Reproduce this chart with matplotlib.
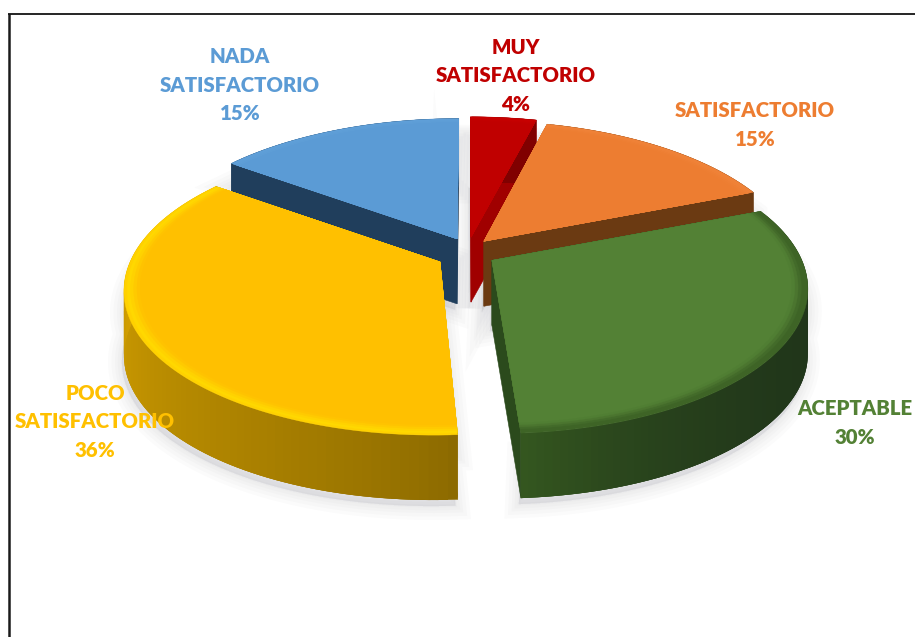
import numpy as np
import matplotlib
matplotlib.use('Agg')
import matplotlib.pyplot as plt
from matplotlib.patches import Polygon
from matplotlib.colors import to_rgb

# datos
categorias = ['MUY\nSATISFACTORIO', 'SATISFACTORIO', 'ACEPTABLE', 'POCO\nSATISFACTORIO', 'NADA\nSATISFACTORIO']
valores = [4, 15, 30, 36, 15]

# estilo
colores = ['#C00000', '#ED7D31', '#538135', '#FFC000', '#5B9BD5']
paredes = ['#A00000', '#6B3A12', '#2B4A1C', '#8F6C00', '#203E5C']
borde = ['#C80000', '#EF8238', '#3E6426', '#FFD800', '#5F9FD8']
lado_ini = ['#800000', '#6B3A12', '#20351A', '#8C6A00', '#203E5C']
lado_fin = ['#800000', '#6B3A12', '#34561F', '#E6AE00', '#203E5C']
lado_pot = [1, 1, 4, 0.8, 1]
explode_x = [1.0, 1.0, 1.18, 1.33, 1.0]
explode_y = [1.0, 1.0, 0.7, 0.97, 1.0]
bisel_fuera = [1.0, 1.0, 1.0, 0.7, 1.0]
pos_etiqueta = [(516, 76), (755, 125), (855, 423), (95, 422), (240, 85)]
orden = [4, 0, 1, 2, 3]

cx, cy = 468, 254
ex, ey = 24, 17
fx, fy, k = 310, 142, 0.18
alto = 65


def punto(tip, ang, r=1.0):
    x = r * np.sin(ang)
    y = r * np.cos(ang)
    s = 1 / (1 + k * y)
    return np.column_stack((tip[0] + (fx * x + tip[0] - cx) * s - (tip[0] - cx), tip[1] - fy * y * s))


fig = plt.figure(figsize=(9.15, 6.37), dpi=100)
ax = fig.add_axes([0, 0, 1, 1])
ax.set_xlim(0, 915)
ax.set_ylim(637, 0)
ax.axis('off')

ax.plot([8.5, 8.5], [637, 13.5], color='#1a1a1a', lw=1.8, solid_capstyle='butt')
ax.plot([8, 915], [13.5, 13.5], color='black', lw=1.2, solid_capstyle='butt')

limites = np.cumsum([0] + valores) / sum(valores) * 2 * np.pi
geom = []
for i in range(len(valores)):
    a0, a1 = limites[i], limites[i + 1]
    med = (a0 + a1) / 2
    tip = (cx + ex * explode_x[i] * np.sin(med), cy - ey * explode_y[i] * np.cos(med))
    geom.append((a0, a1, tip))

# sombra difusa
for i in orden:
    a0, a1, tip = geom[i]
    ang = np.linspace(a0, a1, 80)
    cara = np.vstack(([tip], punto(tip, ang)))
    sombra = np.vstack((cara + [0, 22], cara[::-1] + [-2, alto + 6]))
    for lw in [20, 15, 10, 6, 2]:
        ax.add_patch(Polygon(sombra, closed=True, facecolor='#9a9aa4', edgecolor='#9a9aa4',
                             alpha=0.04, lw=lw, zorder=1))

z = 2
for i in orden:
    a0, a1, tip = geom[i]
    ang = np.linspace(a0, a1, 90)
    arco = punto(tip, ang)
    t0 = np.array(tip)
    drop = np.array([0, alto])

    # paredes rectas
    for extremo in (arco[0], arco[-1]):
        ax.add_patch(Polygon([t0, extremo, extremo + drop, t0 + drop], closed=True,
                             facecolor=paredes[i], edgecolor=paredes[i], lw=0.4, zorder=z))
    z += 1

    # costado exterior con degradado
    c0, c1 = np.array(to_rgb(lado_ini[i])), np.array(to_rgb(lado_fin[i]))
    for j in range(len(ang) - 1):
        t = (j / (len(ang) - 2)) ** lado_pot[i]
        col = c0 + (c1 - c0) * t
        sig = min(j + 3, len(ang) - 1)
        ax.add_patch(Polygon([arco[j], arco[sig], arco[sig] + drop, arco[j] + drop], closed=True,
                             facecolor=col, edgecolor='none', zorder=z))
    z += 1

    # cara superior con bisel
    cf, cb = np.array(to_rgb(colores[i])), np.array(to_rgb(borde[i]))
    for r, t in [(1.0, bisel_fuera[i]), (0.99, 1.0), (0.98, 0.75), (0.97, 0.4), (0.96, 0.12), (0.95, 0.0)]:
        col = cf + (cb - cf) * t
        cara = np.vstack(([t0], punto(tip, ang, r)))
        ax.add_patch(Polygon(cara, closed=True, facecolor=col, edgecolor=col, lw=0.3, zorder=z))
    z += 1

# etiquetas
for i in range(len(valores)):
    ax.text(pos_etiqueta[i][0], pos_etiqueta[i][1], categorias[i] + '\n' + str(valores[i]) + '%',
            color=colores[i], fontsize=14.7, fontweight='heavy', family='Lato',
            ha='center', va='center', linespacing=1.6, zorder=z + 5)

fig.savefig('out.png', dpi=100, facecolor='white')
